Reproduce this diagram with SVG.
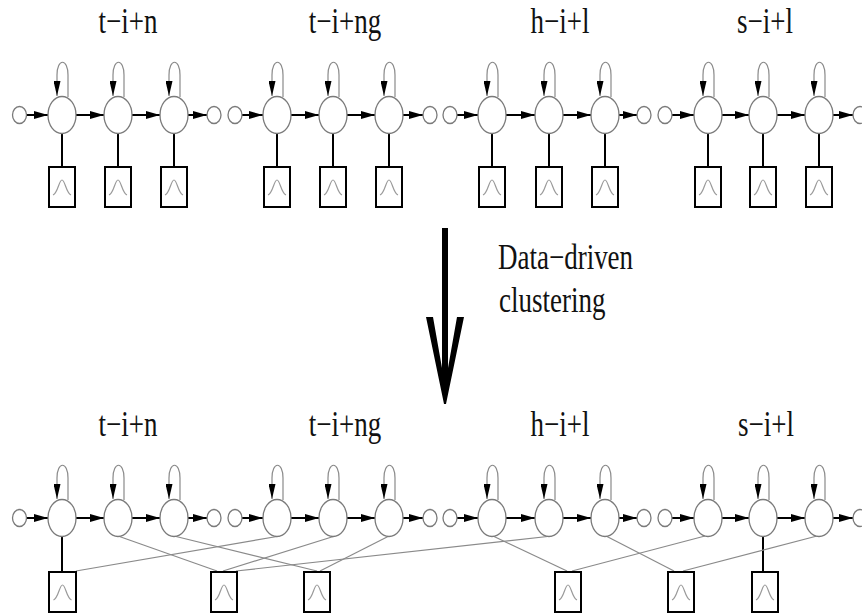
<svg xmlns="http://www.w3.org/2000/svg" width="862" height="615" viewBox="0 0 862 615">
<defs>
<style>
.st{fill:#fff;stroke:#7a7a7a;stroke-width:1.3}
.sm{fill:#fff;stroke:#7a7a7a;stroke-width:1.3}
.arr{stroke:#000;stroke-width:2;marker-end:url(#ah)}
.loop{fill:none;stroke:#8a8a8a;stroke-width:1.2;marker-end:url(#ahl)}
.vl{stroke:#000;stroke-width:2}
.cl{stroke:#8a8a8a;stroke-width:1.2}
.box{fill:#fff;stroke:#000;stroke-width:2}
.gs{fill:none;stroke:#9a9a9a;stroke-width:1.2}
.t{font-family:"Liberation Serif","Times New Roman",serif;font-size:27px;fill:#111}
</style>
<marker id="ah" markerUnits="userSpaceOnUse" markerWidth="14" markerHeight="8" refX="14" refY="4" orient="auto"><path d="M0,0 L14,4 L0,8 Z" fill="#000"/></marker>
<marker id="ahl" markerUnits="userSpaceOnUse" markerWidth="15" markerHeight="7" refX="15" refY="3.5" orient="auto"><path d="M0,0 L15,3.5 L0,7 Z" fill="#000"/></marker>
</defs>
<rect width="862" height="615" fill="#fff"/>

<!-- titles -->
<g id="titles">
<text class="t" transform="translate(128,33) scale(1,1.33)" text-anchor="middle">t−i+n</text>
<text class="t" transform="translate(345,33) scale(1,1.33)" text-anchor="middle">t−i+ng</text>
<text class="t" transform="translate(560,33) scale(1,1.33)" text-anchor="middle">h−i+l</text>
<text class="t" transform="translate(765,33) scale(1,1.33)" text-anchor="middle">s−i+l</text>
<text class="t" transform="translate(128,436) scale(1,1.33)" text-anchor="middle">t−i+n</text>
<text class="t" transform="translate(345,436) scale(1,1.33)" text-anchor="middle">t−i+ng</text>
<text class="t" transform="translate(560,436) scale(1,1.33)" text-anchor="middle">h−i+l</text>
<text class="t" transform="translate(766,436) scale(1,1.33)" text-anchor="middle">s−i+l</text>
</g>

<!-- connectors -->
<g id="connectors">
<line class="arr" x1="26.5" y1="115" x2="48" y2="115"/>
<line class="arr" x1="76" y1="115" x2="104" y2="115"/>
<line class="arr" x1="132" y1="115" x2="160" y2="115"/>
<line class="arr" x1="188" y1="115" x2="207" y2="115"/>
<line class="arr" x1="242" y1="115" x2="263" y2="115"/>
<line class="arr" x1="291" y1="115" x2="319" y2="115"/>
<line class="arr" x1="347" y1="115" x2="375" y2="115"/>
<line class="arr" x1="403" y1="115" x2="423" y2="115"/>
<line class="arr" x1="457" y1="115" x2="478" y2="115"/>
<line class="arr" x1="506" y1="115" x2="535" y2="115"/>
<line class="arr" x1="563" y1="115" x2="591" y2="115"/>
<line class="arr" x1="619" y1="115" x2="637" y2="115"/>
<line class="arr" x1="672" y1="115" x2="694" y2="115"/>
<line class="arr" x1="722" y1="115" x2="749" y2="115"/>
<line class="arr" x1="777" y1="115" x2="805" y2="115"/>
<line class="arr" x1="833" y1="115" x2="853" y2="115"/>
<line class="arr" x1="26.5" y1="518" x2="48" y2="518"/>
<line class="arr" x1="76" y1="518" x2="104" y2="518"/>
<line class="arr" x1="132" y1="518" x2="160" y2="518"/>
<line class="arr" x1="188" y1="518" x2="207" y2="518"/>
<line class="arr" x1="242" y1="518" x2="263" y2="518"/>
<line class="arr" x1="291" y1="518" x2="319" y2="518"/>
<line class="arr" x1="347" y1="518" x2="375" y2="518"/>
<line class="arr" x1="403" y1="518" x2="423" y2="518"/>
<line class="arr" x1="457" y1="518" x2="478" y2="518"/>
<line class="arr" x1="506" y1="518" x2="535" y2="518"/>
<line class="arr" x1="563" y1="518" x2="591" y2="518"/>
<line class="arr" x1="619" y1="518" x2="637" y2="518"/>
<line class="arr" x1="672" y1="518" x2="694" y2="518"/>
<line class="arr" x1="722" y1="518" x2="749" y2="518"/>
<line class="arr" x1="777" y1="518" x2="805" y2="518"/>
<line class="arr" x1="833" y1="518" x2="853" y2="518"/>
<path class="loop" d="M68,97 L68,75 C68,58 57,58 57,75 L57,96"/>
<path class="loop" d="M124,97 L124,75 C124,58 113,58 113,75 L113,96"/>
<path class="loop" d="M180,97 L180,75 C180,58 169,58 169,75 L169,96"/>
<path class="loop" d="M283,97 L283,75 C283,58 272,58 272,75 L272,96"/>
<path class="loop" d="M339,97 L339,75 C339,58 328,58 328,75 L328,96"/>
<path class="loop" d="M395,97 L395,75 C395,58 384,58 384,75 L384,96"/>
<path class="loop" d="M498,97 L498,75 C498,58 487,58 487,75 L487,96"/>
<path class="loop" d="M555,97 L555,75 C555,58 544,58 544,75 L544,96"/>
<path class="loop" d="M611,97 L611,75 C611,58 600,58 600,75 L600,96"/>
<path class="loop" d="M714,97 L714,75 C714,58 703,58 703,75 L703,96"/>
<path class="loop" d="M769,97 L769,75 C769,58 758,58 758,75 L758,96"/>
<path class="loop" d="M825,97 L825,75 C825,58 814,58 814,75 L814,96"/>
<path class="loop" d="M68,500 L68,478 C68,461 57,461 57,478 L57,499"/>
<path class="loop" d="M124,500 L124,478 C124,461 113,461 113,478 L113,499"/>
<path class="loop" d="M180,500 L180,478 C180,461 169,461 169,478 L169,499"/>
<path class="loop" d="M283,500 L283,478 C283,461 272,461 272,478 L272,499"/>
<path class="loop" d="M339,500 L339,478 C339,461 328,461 328,478 L328,499"/>
<path class="loop" d="M395,500 L395,478 C395,461 384,461 384,478 L384,499"/>
<path class="loop" d="M498,500 L498,478 C498,461 487,461 487,478 L487,499"/>
<path class="loop" d="M555,500 L555,478 C555,461 544,461 544,478 L544,499"/>
<path class="loop" d="M611,500 L611,478 C611,461 600,461 600,478 L600,499"/>
<path class="loop" d="M714,500 L714,478 C714,461 703,461 703,478 L703,499"/>
<path class="loop" d="M769,500 L769,478 C769,461 758,461 758,478 L758,499"/>
<path class="loop" d="M825,500 L825,478 C825,461 814,461 814,478 L814,499"/>
<line class="vl" x1="62" y1="133.5" x2="62" y2="167"/>
<line class="vl" x1="118" y1="133.5" x2="118" y2="167"/>
<line class="vl" x1="174" y1="133.5" x2="174" y2="167"/>
<line class="vl" x1="277" y1="133.5" x2="277" y2="167"/>
<line class="vl" x1="333" y1="133.5" x2="333" y2="167"/>
<line class="vl" x1="389" y1="133.5" x2="389" y2="167"/>
<line class="vl" x1="492" y1="133.5" x2="492" y2="167"/>
<line class="vl" x1="549" y1="133.5" x2="549" y2="167"/>
<line class="vl" x1="605" y1="133.5" x2="605" y2="167"/>
<line class="vl" x1="708" y1="133.5" x2="708" y2="167"/>
<line class="vl" x1="763" y1="133.5" x2="763" y2="167"/>
<line class="vl" x1="819" y1="133.5" x2="819" y2="167"/>
<line class="vl" x1="62" y1="536.5" x2="62" y2="572"/>
<line class="vl" x1="763" y1="536.5" x2="763" y2="572"/>
<line class="cl" x1="76" y1="571" x2="280" y2="536"/>
<line class="cl" x1="118" y1="536" x2="217" y2="571"/>
<line class="cl" x1="223" y1="571" x2="335" y2="536"/>
<line class="cl" x1="236" y1="571" x2="552" y2="536"/>
<line class="cl" x1="174" y1="536" x2="317" y2="571"/>
<line class="cl" x1="320" y1="571" x2="389" y2="536"/>
<line class="cl" x1="493" y1="536" x2="567" y2="571"/>
<line class="cl" x1="572" y1="571" x2="705" y2="536"/>
<line class="cl" x1="606" y1="536" x2="674" y2="571"/>
<line class="cl" x1="683" y1="571" x2="817" y2="536"/>
</g>

<g id="top-t-i-n-s1"><ellipse class="st" cx="62" cy="115" rx="14" ry="18.5"/></g>
<g id="top-t-i-n-s2"><ellipse class="st" cx="118" cy="115" rx="14" ry="18.5"/></g>
<g id="top-t-i-n-s3"><ellipse class="st" cx="174" cy="115" rx="14" ry="18.5"/></g>
<g id="top-t-i-n-entry"><ellipse class="sm" cx="19.5" cy="115" rx="7" ry="8.5"/></g>
<g id="top-t-i-n-exit"><ellipse class="sm" cx="214" cy="115" rx="7" ry="8.5"/></g>
<g id="top-t-i-ng-s1"><ellipse class="st" cx="277" cy="115" rx="14" ry="18.5"/></g>
<g id="top-t-i-ng-s2"><ellipse class="st" cx="333" cy="115" rx="14" ry="18.5"/></g>
<g id="top-t-i-ng-s3"><ellipse class="st" cx="389" cy="115" rx="14" ry="18.5"/></g>
<g id="top-t-i-ng-entry"><ellipse class="sm" cx="235" cy="115" rx="7" ry="8.5"/></g>
<g id="top-t-i-ng-exit"><ellipse class="sm" cx="430" cy="115" rx="7" ry="8.5"/></g>
<g id="top-h-i-l-s1"><ellipse class="st" cx="492" cy="115" rx="14" ry="18.5"/></g>
<g id="top-h-i-l-s2"><ellipse class="st" cx="549" cy="115" rx="14" ry="18.5"/></g>
<g id="top-h-i-l-s3"><ellipse class="st" cx="605" cy="115" rx="14" ry="18.5"/></g>
<g id="top-h-i-l-entry"><ellipse class="sm" cx="450" cy="115" rx="7" ry="8.5"/></g>
<g id="top-h-i-l-exit"><ellipse class="sm" cx="644" cy="115" rx="7" ry="8.5"/></g>
<g id="top-s-i-l-s1"><ellipse class="st" cx="708" cy="115" rx="14" ry="18.5"/></g>
<g id="top-s-i-l-s2"><ellipse class="st" cx="763" cy="115" rx="14" ry="18.5"/></g>
<g id="top-s-i-l-s3"><ellipse class="st" cx="819" cy="115" rx="14" ry="18.5"/></g>
<g id="top-s-i-l-entry"><ellipse class="sm" cx="665" cy="115" rx="7" ry="8.5"/></g>
<g id="top-s-i-l-exit"><ellipse class="sm" cx="860" cy="115" rx="7" ry="8.5"/></g>

<g id="top-out-1"><rect class="box" x="49" y="167" width="26" height="40"/><path class="gs" d="M53,195 C58,193 59,180 62,180 C65,180 66,193 71,195"/></g>
<g id="top-out-2"><rect class="box" x="105" y="167" width="26" height="40"/><path class="gs" d="M109,195 C114,193 115,180 118,180 C121,180 122,193 127,195"/></g>
<g id="top-out-3"><rect class="box" x="161" y="167" width="26" height="40"/><path class="gs" d="M165,195 C170,193 171,180 174,180 C177,180 178,193 183,195"/></g>
<g id="top-out-4"><rect class="box" x="264" y="167" width="26" height="40"/><path class="gs" d="M268,195 C273,193 274,180 277,180 C280,180 281,193 286,195"/></g>
<g id="top-out-5"><rect class="box" x="320" y="167" width="26" height="40"/><path class="gs" d="M324,195 C329,193 330,180 333,180 C336,180 337,193 342,195"/></g>
<g id="top-out-6"><rect class="box" x="376" y="167" width="26" height="40"/><path class="gs" d="M380,195 C385,193 386,180 389,180 C392,180 393,193 398,195"/></g>
<g id="top-out-7"><rect class="box" x="479" y="167" width="26" height="40"/><path class="gs" d="M483,195 C488,193 489,180 492,180 C495,180 496,193 501,195"/></g>
<g id="top-out-8"><rect class="box" x="536" y="167" width="26" height="40"/><path class="gs" d="M540,195 C545,193 546,180 549,180 C552,180 553,193 558,195"/></g>
<g id="top-out-9"><rect class="box" x="592" y="167" width="26" height="40"/><path class="gs" d="M596,195 C601,193 602,180 605,180 C608,180 609,193 614,195"/></g>
<g id="top-out-10"><rect class="box" x="695" y="167" width="26" height="40"/><path class="gs" d="M699,195 C704,193 705,180 708,180 C711,180 712,193 717,195"/></g>
<g id="top-out-11"><rect class="box" x="750" y="167" width="26" height="40"/><path class="gs" d="M754,195 C759,193 760,180 763,180 C766,180 767,193 772,195"/></g>
<g id="top-out-12"><rect class="box" x="806" y="167" width="26" height="40"/><path class="gs" d="M810,195 C815,193 816,180 819,180 C822,180 823,193 828,195"/></g>

<g id="clustering-arrow">
<path d="M442,228 L448,228 L448,368 L457,317 L464,317 L446,404 L444,404 L426,317 L433,317 L442,368 Z" fill="#000"/>
<text class="t" transform="translate(498,269) scale(1,1.33)">Data−driven</text>
<text class="t" transform="translate(499,312) scale(1,1.33)">clustering</text>
</g>

<g id="bot-t-i-n-s1"><ellipse class="st" cx="62" cy="518" rx="14" ry="18.5"/></g>
<g id="bot-t-i-n-s2"><ellipse class="st" cx="118" cy="518" rx="14" ry="18.5"/></g>
<g id="bot-t-i-n-s3"><ellipse class="st" cx="174" cy="518" rx="14" ry="18.5"/></g>
<g id="bot-t-i-n-entry"><ellipse class="sm" cx="19.5" cy="518" rx="7" ry="8.5"/></g>
<g id="bot-t-i-n-exit"><ellipse class="sm" cx="214" cy="518" rx="7" ry="8.5"/></g>
<g id="bot-t-i-ng-s1"><ellipse class="st" cx="277" cy="518" rx="14" ry="18.5"/></g>
<g id="bot-t-i-ng-s2"><ellipse class="st" cx="333" cy="518" rx="14" ry="18.5"/></g>
<g id="bot-t-i-ng-s3"><ellipse class="st" cx="389" cy="518" rx="14" ry="18.5"/></g>
<g id="bot-t-i-ng-entry"><ellipse class="sm" cx="235" cy="518" rx="7" ry="8.5"/></g>
<g id="bot-t-i-ng-exit"><ellipse class="sm" cx="430" cy="518" rx="7" ry="8.5"/></g>
<g id="bot-h-i-l-s1"><ellipse class="st" cx="492" cy="518" rx="14" ry="18.5"/></g>
<g id="bot-h-i-l-s2"><ellipse class="st" cx="549" cy="518" rx="14" ry="18.5"/></g>
<g id="bot-h-i-l-s3"><ellipse class="st" cx="605" cy="518" rx="14" ry="18.5"/></g>
<g id="bot-h-i-l-entry"><ellipse class="sm" cx="450" cy="518" rx="7" ry="8.5"/></g>
<g id="bot-h-i-l-exit"><ellipse class="sm" cx="644" cy="518" rx="7" ry="8.5"/></g>
<g id="bot-s-i-l-s1"><ellipse class="st" cx="708" cy="518" rx="14" ry="18.5"/></g>
<g id="bot-s-i-l-s2"><ellipse class="st" cx="763" cy="518" rx="14" ry="18.5"/></g>
<g id="bot-s-i-l-s3"><ellipse class="st" cx="819" cy="518" rx="14" ry="18.5"/></g>
<g id="bot-s-i-l-entry"><ellipse class="sm" cx="665" cy="518" rx="7" ry="8.5"/></g>
<g id="bot-s-i-l-exit"><ellipse class="sm" cx="860" cy="518" rx="7" ry="8.5"/></g>

<g id="bot-out-A"><rect class="box" x="49" y="572" width="27" height="40"/><path class="gs" d="M53.5,600 C58.5,598 59.5,585 62.5,585 C65.5,585 66.5,598 71.5,600"/></g>
<g id="bot-out-B"><rect class="box" x="211" y="572" width="26" height="40"/><path class="gs" d="M215,600 C220,598 221,585 224,585 C227,585 228,598 233,600"/></g>
<g id="bot-out-C"><rect class="box" x="304" y="572" width="26" height="40"/><path class="gs" d="M308,600 C313,598 314,585 317,585 C320,585 321,598 326,600"/></g>
<g id="bot-out-D"><rect class="box" x="555" y="572" width="26" height="40"/><path class="gs" d="M559,600 C564,598 565,585 568,585 C571,585 572,598 577,600"/></g>
<g id="bot-out-E"><rect class="box" x="668" y="572" width="26" height="40"/><path class="gs" d="M672,600 C677,598 678,585 681,585 C684,585 685,598 690,600"/></g>
<g id="bot-out-F"><rect class="box" x="752" y="572" width="26" height="40"/><path class="gs" d="M756,600 C761,598 762,585 765,585 C768,585 769,598 774,600"/></g>
</svg>
